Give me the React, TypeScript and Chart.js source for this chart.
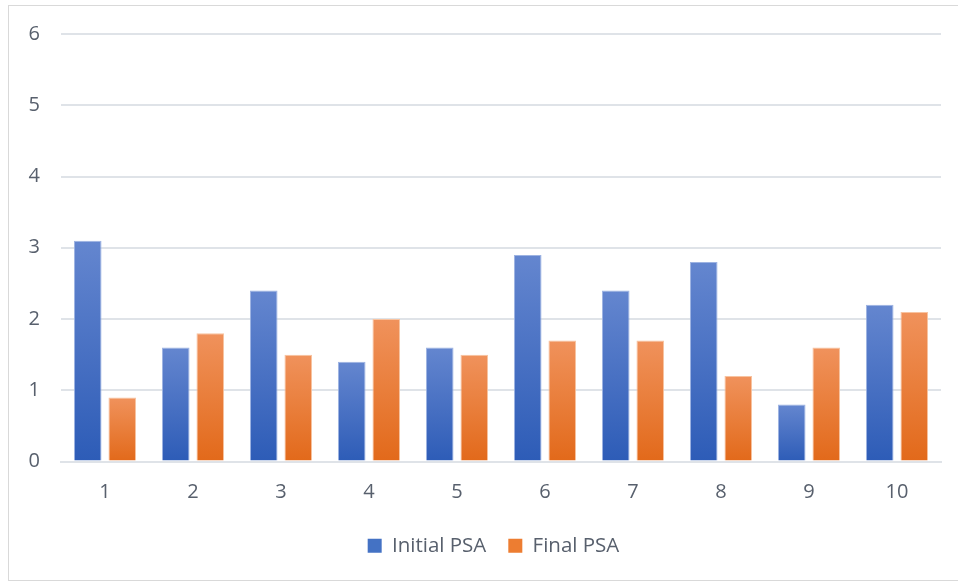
import React, { useEffect, useRef } from "react";
import { Chart, registerables } from "chart.js";

Chart.register(...registerables);

const categories = ["1", "2", "3", "4", "5", "6", "7", "8", "9", "10"];
const initialPSA = [3.1, 1.6, 2.4, 1.4, 1.6, 2.9, 2.4, 2.8, 0.8, 2.2];
const finalPSA = [0.9, 1.8, 1.5, 2.0, 1.5, 1.7, 1.7, 1.2, 1.6, 2.1];
const seriesNames = ["Initial PSA", "Final PSA"];

const FONT = "'Open Sans', 'Noto Sans', sans-serif";
const TEXT = "#58606d";

function mid(a: string, b: string) {
  const pa = [1, 3, 5].map((i) => parseInt(a.slice(i, i + 2), 16));
  const pb = [1, 3, 5].map((i) => parseInt(b.slice(i, i + 2), 16));
  return `rgb(${pa.map((x, i) => Math.round((x + pb[i]) / 2)).join(",")})`;
}

function barGradient(top: string, bottom: string) {
  return (context: any) => {
    const chart = context.chart;
    const { ctx, chartArea, scales } = chart;
    if (!chartArea || context.type !== "data") return bottom;
    const v = context.raw as number;
    const yTop = scales.y.getPixelForValue(v);
    const yBase = scales.y.getPixelForValue(0);
    if (!isFinite(yTop) || !isFinite(yBase) || yTop === yBase) return bottom;
    const g = ctx.createLinearGradient(0, yTop, 0, yBase);
    g.addColorStop(0, top);
    g.addColorStop(0.5, mid(top, bottom));
    g.addColorStop(1, bottom);
    return g;
  };
}

const legendShift = {
  id: "legendShift",
  afterUpdate(chart: any) {
    const lg = chart.legend;
    if (lg) {
      lg.left += 23;
      lg.right += 23;
    }
  },
};

export default function App() {
  const ref = useRef<HTMLCanvasElement>(null);

  useEffect(() => {
    if (!ref.current) return;
    const chart = new Chart(ref.current, {
      type: "bar",
      data: {
        labels: categories,
        datasets: [
          {
            label: seriesNames[0],
            data: initialPSA,
            backgroundColor: barGradient("#6486cf", "#2d5cb7"),
            borderColor: "#9db3e2",
            borderWidth: 1,
          },
          {
            label: seriesNames[1],
            data: finalPSA,
            backgroundColor: barGradient("#f0925c", "#e2691a"),
            borderColor: "#f8c3a0",
            borderWidth: 1,
          },
        ],
      },
      plugins: [legendShift],
      options: {
        animation: false,
        responsive: false,
        maintainAspectRatio: false,
        layout: { padding: { left: 0, right: 17, top: 34, bottom: 17 } },
        datasets: {
          bar: { barPercentage: 0.8, categoryPercentage: 0.785 },
        },
        scales: {
          x: {
            afterFit: (scale: any) => {
              scale.height = 52;
            },
            grid: { display: false, drawTicks: false },
            border: { display: true, color: "#dfe3e8", width: 2 },
            ticks: {
              color: TEXT,
              font: { family: FONT, size: 20 },
              padding: 19,
            },
          },
          y: {
            min: 0,
            max: 6,
            afterFit: (scale: any) => {
              scale.width = 61;
            },
            grid: { color: "#dfe3e8", lineWidth: 2, drawTicks: false },
            border: { display: false },
            ticks: {
              stepSize: 1,
              color: TEXT,
              font: { family: FONT, size: 20 },
              padding: 21,
            },
          },
        },
        plugins: {
          legend: {
            position: "bottom",
            labels: {
              boxWidth: 14,
              boxHeight: 14,
              color: TEXT,
              font: { family: FONT, size: 20.5 },
              padding: 22,
              generateLabels: (c: any) =>
                c.data.datasets.map((d: any, i: number) => ({
                  text: d.label,
                  fillStyle: i === 0 ? "#4472c4" : "#ed7d31",
                  strokeStyle: i === 0 ? "#4472c4" : "#ed7d31",
                  lineWidth: 0,
                  hidden: false,
                  datasetIndex: i,
                  fontColor: TEXT,
                })),
            },
          },
          tooltip: { enabled: false },
        },
      },
    });
    return () => chart.destroy();
  }, []);

  return (
    <div
      style={{
        position: "fixed",
        left: 0,
        top: 0,
        width: 958,
        height: 583,
        overflow: "hidden",
        background: "#fff",
      }}
    >
      <div
        style={{
          position: "absolute",
          left: 8,
          top: 5,
          width: 980,
          height: 576,
          border: "1px solid #d9d9d9",
          boxSizing: "border-box",
        }}
      />
      <canvas
        ref={ref}
        width={958}
        height={583}
        style={{ position: "absolute", left: 0, top: 0, width: 958, height: 583 }}
      />
    </div>
  );
}
